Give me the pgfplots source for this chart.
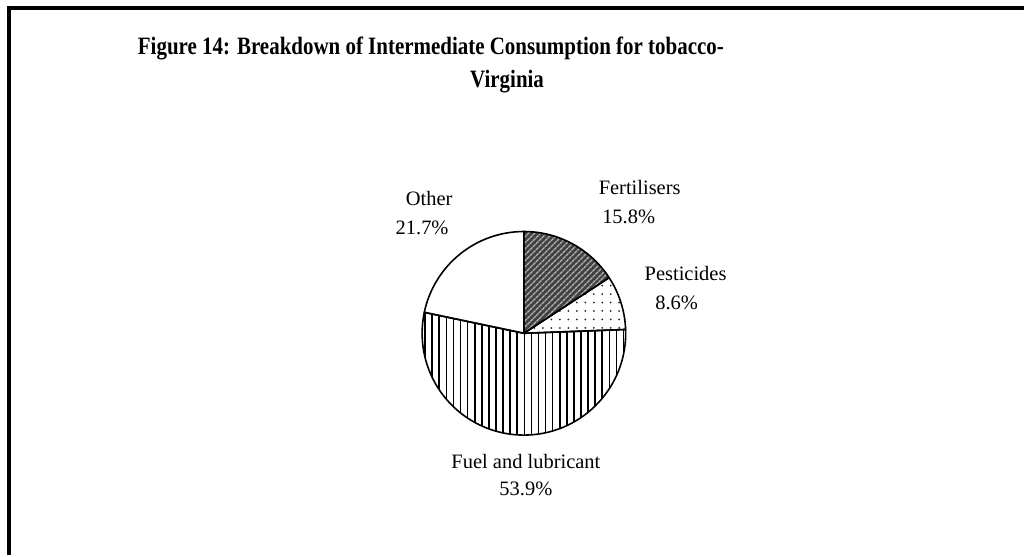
\documentclass[border=0pt]{standalone}
\usepackage{pgfplots}
\pgfplotsset{compat=1.18}
\usepackage{pgfplotstable}
\usetikzlibrary{patterns.meta}
\usepackage{fontspec}
\setmainfont{Liberation Serif}
\newfontfamily\titlefont[FakeStretch=0.84]{Liberation Serif}

\pgfplotstableread{
label value
Fertilisers 15.8
Pesticides 8.6
Fuel 53.9
Other 21.7
}\piedata
\pgfplotstablegetelem{0}{value}\of\piedata\let\vA\pgfplotsretval
\pgfplotstablegetelem{1}{value}\of\piedata\let\vB\pgfplotsretval
\pgfplotstablegetelem{2}{value}\of\piedata\let\vC\pgfplotsretval
\pgfplotstablegetelem{3}{value}\of\piedata\let\vD\pgfplotsretval
\pgfmathsetmacro\aO{90}
\pgfmathsetmacro\aA{\aO-3.6*\vA}
\pgfmathsetmacro\aB{\aA-3.6*\vB}
\pgfmathsetmacro\aC{\aB-3.6*\vC}
\pgfmathsetmacro\aD{\aC-3.6*\vD}
\def\R{102pt}

\begin{document}%
\begin{tikzpicture}
\begin{axis}[
  scale only axis, width=1026pt, height=556pt,
  xmin=0, xmax=1026, ymin=0, ymax=556, y dir=reverse,
  hide axis, clip=false]
\path (axis cs:0,0) (axis cs:1026,556);
% frame
\draw[line width=4.3pt, line cap=butt] (axis cs:9,556) -- (axis cs:9,8) -- (axis cs:1026,8);
% wedges
\def\C{(axis cs:525,334)}
\fill[black!75] \C -- ++(\aO:\R) arc[start angle=\aO, end angle=\aA, radius=\R] -- cycle;
\fill[pattern={Lines[angle=45,distance=4pt,line width=1.5pt]}, pattern color=black!30] \C -- ++(\aO:\R) arc[start angle=\aO, end angle=\aA, radius=\R] -- cycle;
\fill[pattern={Dots[distance=8.5pt,radius=1pt]}, pattern color=black!85] \C -- ++(\aA:\R) arc[start angle=\aA, end angle=\aB, radius=\R] -- cycle;
\fill[pattern={Lines[angle=90,distance=7.1pt,line width=1.6pt]}, pattern color=black] \C -- ++(\aB:\R) arc[start angle=\aB, end angle=\aC, radius=\R] -- cycle;
\draw[line width=1.6pt, line join=round] \C -- ++(\aO:\R) arc[start angle=\aO, end angle=\aA, radius=\R] -- cycle;
\draw[line width=1.6pt, line join=round] \C -- ++(\aA:\R) arc[start angle=\aA, end angle=\aB, radius=\R] -- cycle;
\draw[line width=1.6pt, line join=round] \C -- ++(\aB:\R) arc[start angle=\aB, end angle=\aC, radius=\R] -- cycle;
\draw[line width=1.6pt, line join=round] \C -- ++(\aC:\R) arc[start angle=\aC, end angle=\aD, radius=\R] -- cycle;
% title
\node[anchor=base west, inner sep=0pt, font=\titlefont\fontsize{25}{30}\selectfont\bfseries] at (axis cs:138,55) {Figure 14: Breakdown of Intermediate Consumption for tobacco-};
\node[anchor=base west, inner sep=0pt, font=\titlefont\fontsize{25}{30}\selectfont\bfseries] at (axis cs:471,88) {Virginia};
% labels
\tikzset{lab/.style={anchor=base, inner sep=0pt, font=\fontsize{20.5}{24}\selectfont}}
\node[lab] at (axis cs:641,195) {Fertilisers};
\node[lab] at (axis cs:630,224) {15.8\%};
\node[lab] at (axis cs:687,281) {Pesticides};
\node[lab] at (axis cs:678,310) {8.6\%};
\node[lab] at (axis cs:430,206) {Other};
\node[lab] at (axis cs:423,235) {21.7\%};
\node[lab] at (axis cs:527,469) {Fuel and lubricant};
\node[lab] at (axis cs:527,497) {53.9\%};
\end{axis}
\end{tikzpicture}%
\end{document}
